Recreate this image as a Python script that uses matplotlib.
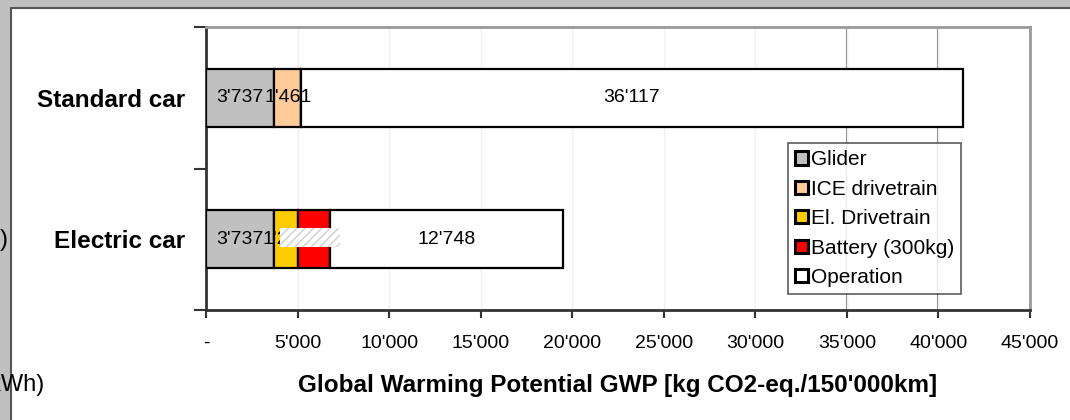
import matplotlib
matplotlib.use("Agg")
import matplotlib.pyplot as plt
from matplotlib.patches import Patch, Rectangle

plt.rcParams['font.family'] = ['Liberation Sans', 'DejaVu Sans']
plt.rcParams['hatch.linewidth'] = 1.0

cars = ["Electric car", "Standard car"]
parts = ["Glider", "ICE drivetrain", "El. Drivetrain", "Battery (300kg)", "Operation"]
colors = ["#c0c0c0", "#ffcc99", "#ffcc00", "#ff0000", "#ffffff"]

# kg CO2-eq per car, one list per component (electric, standard)
glider = [3737, 3737]
ice_drive = [0, 1461]
el_drive = [1270, 0]
battery = [1750, 0]
operation = [12748, 36117]

ticks = [0, 5000, 10000, 15000, 20000, 25000, 30000, 35000, 40000, 45000]
tick_labels = ["-", "5'000", "10'000", "15'000", "20'000", "25'000", "30'000",
               "35'000", "40'000", "45'000"]
dark_grid = [35000, 40000]

def fmt(v):
    return "{:,}".format(v).replace(",", "'")

fig = plt.figure(figsize=(10.7, 4.2), dpi=100, facecolor="#c0c0c0")
# white page behind the chart (screenshot border)
fig.patches.append(Rectangle((11 / 1070, -0.1), 1.2, 1 - 8 / 420 + 0.1,
                             transform=fig.transFigure, facecolor="white",
                             edgecolor="#555555", lw=1.5, zorder=-5))

ax = fig.add_axes([206 / 1070, 1 - 310 / 420, 824 / 1070, 283 / 420])
ax.set_facecolor("white")

series = [glider, ice_drive, el_drive, battery, operation]
left = [0, 0]
for vals, col in zip(series, colors):
    ax.barh([0, 1], vals, left=left, height=0.41, color=col,
            edgecolor="black", lw=1.6, zorder=3)
    for i, v in enumerate(vals):
        if v > 0:
            ax.text(left[i] + v / 2, i, fmt(v), ha="center", va="center",
                    fontsize=14, zorder=4)
    left = [l + v for l, v in zip(left, vals)]

# hatched box hiding the small labels on the electric car
ax.add_patch(Rectangle((glider[0] + el_drive[0] * 0.25, -0.058),
                       3270, 0.135, facecolor="white", edgecolor="#cfcfcf",
                       hatch="////", lw=0, zorder=5))

ax.set_xlim(0, 45000)
ax.set_ylim(-0.5, 1.5)
ax.set_xticks(ticks)
ax.set_xticklabels(tick_labels, fontsize=14)
ax.tick_params(axis="x", direction="out", length=6, width=1.5,
               color="#333333", pad=12)
ax.set_yticks([-0.5, 0.5, 1.5])
ax.set_yticklabels([])
ax.tick_params(axis="y", which="major", direction="out", length=9,
               width=1.5, color="#333333")
ax.set_yticks([0, 1], minor=True)
ax.set_yticklabels(cars, minor=True, fontsize=17.5, fontweight="bold")
ax.tick_params(axis="y", which="minor", length=0, pad=15)

ax.grid(axis="x", color="#f0f0f0", lw=1, zorder=0)
for g in dark_grid:
    ax.axvline(g, color="#808080", lw=1.5, zorder=1)

for s in ["left", "bottom"]:
    ax.spines[s].set_color("#333333")
    ax.spines[s].set_linewidth(2)
for s in ["top", "right"]:
    ax.spines[s].set_color("#999999")
    ax.spines[s].set_linewidth(2)

ax.set_xlabel("Global Warming Potential GWP [kg CO2-eq./150'000km]",
              fontsize=17.5, fontweight="bold", labelpad=16)

handles = [Patch(facecolor=c, edgecolor="black", lw=2.2) for c in colors]
leg = ax.legend(handles, parts, loc="upper left", bbox_to_anchor=(0.706, 0.59),
                fontsize=15, frameon=True, fancybox=False, handlelength=0.6,
                handleheight=0.6, handletextpad=0.15, labelspacing=0.5,
                borderpad=0.35, borderaxespad=0)
leg.get_frame().set_edgecolor("#333333")
leg.get_frame().set_linewidth(1.2)
leg.set_zorder(6)

# pieces of the neighbouring chart cut off at the left edge
fig.text(8 / 1070, 1 - 240 / 420, ")", ha="right", va="center", fontsize=17)
fig.text(45 / 1070, 1 - 385 / 420, "(kWh)", ha="right", va="center", fontsize=17)

fig.savefig("out.png", dpi=100, facecolor=fig.get_facecolor())
